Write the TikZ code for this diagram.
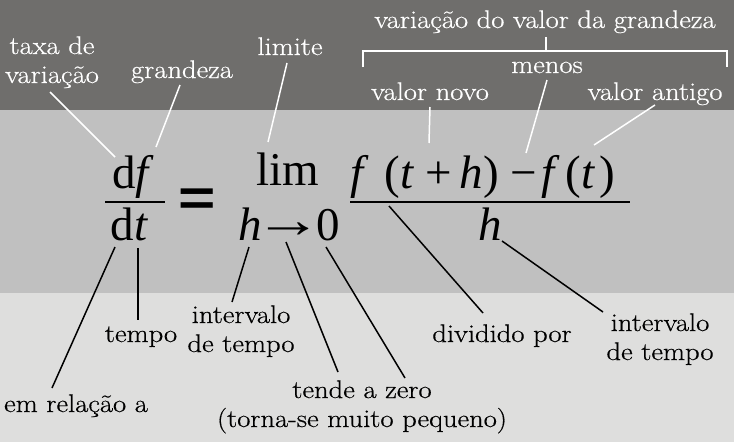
\documentclass[tikz,border=0pt]{standalone}
\usepackage{fontspec}
\setmainfont{Latin Modern Roman}
\newfontfamily\labfont[FakeStretch=1.12,FakeBold=0.5]{Latin Modern Roman}
\newfontfamily\fmfont{Liberation Serif}
\newfontfamily\eqfont{Liberation Sans}
\definecolor{darkband}{RGB}{111,110,108}
\definecolor{midband}{RGB}{192,192,192}
\definecolor{lightband}{RGB}{222,222,221}
\tikzset{
  lab/.style={font=\labfont\fontsize{25.5}{29}\selectfont, align=center, anchor=base, inner sep=0pt},
  wlab/.style={lab, text=white},
  fm/.style={font=\fmfont\fontsize{47}{47}\selectfont, anchor=base, inner sep=0pt},
  wline/.style={draw=white, line width=1.5pt},
  bline/.style={draw=black, line width=1.5pt},
  fbar/.style={draw=black, line width=2.2pt}
}
\begin{document}
\begin{tikzpicture}[x=1pt,y=-1pt]
\useasboundingbox (0,0) rectangle (734,442);
\fill[darkband] (0,0) rectangle (734,110);
\fill[midband] (0,110) rectangle (734,293);
\fill[lightband] (0,293) rectangle (734,442);

% formula
\node[fm] (df) at (133,188) {d\textit{f}};
\node[fm] (dt) at (129.5,240) {d\textit{t}};
\coordinate (b1l) at (105,202); \coordinate (b1r) at (165,202);
\draw[fbar] (b1l) -- (b1r);
\node[font=\eqfont\bfseries\fontsize{64}{64}\selectfont, inner sep=0pt] (eq) at (197.5,202) {\scalebox{1}[0.8]{=}};
\node[fm] (lim) at (288,185) {lim};
\node[fm] (lmt) at (289,240) {\textit{h}\hspace{-7pt}\raisebox{3pt}{\scalebox{1.45}[1.1]{→}}\hspace{-7pt}0};
\node[fm, anchor=base west] (num) at (350,188) {\textit{f}\hspace{16pt}(\textit{t}\hspace{11pt}+\hspace{8pt}\textit{h})\hspace{12pt}−\hspace{4pt}\textit{f}\hspace{6pt}(\textit{t}\hspace{4pt})};
\coordinate (b2l) at (350,202); \coordinate (b2r) at (630,202);
\draw[fbar] (b2l) -- (b2r);
\node[fm] (den) at (490,240) {\textit{h}};

% top labels
\node[wlab] (taxa) at (52,83) {taxa de\\variação};
\node[wlab] (grand) at (182,78) {grandeza};
\node[wlab] (limite) at (290,55) {limite};
\node[wlab] (varv) at (545,28) {variação do valor da grandeza};
\node[wlab] (menos) at (547,73) {menos};
\node[wlab] (vnovo) at (430,100) {valor novo};
\node[wlab] (vant) at (655,100) {valor antigo};

% bracket
\coordinate (brl) at (363,67); \coordinate (brl2) at (363,51);
\coordinate (brr) at (727,67); \coordinate (brr2) at (727,51);
\coordinate (brc) at (546,51); \coordinate (brt) at (546,37);
\draw[wline] (brl) -- (brl2) -- (brr2) -- (brr);
\draw[wline] (brc) -- (brt);

% white leader lines
\coordinate (w1a) at (50,92);  \coordinate (w1b) at (115,157);
\coordinate (w2a) at (180,85); \coordinate (w2b) at (156,147);
\coordinate (w3a) at (287,63); \coordinate (w3b) at (268,142);
\coordinate (w4a) at (430,107); \coordinate (w4b) at (429,143);
\coordinate (w5a) at (547,80); \coordinate (w5b) at (526,153);
\coordinate (w6a) at (655,105); \coordinate (w6b) at (594,145);
\draw[wline] (w1a) -- (w1b);
\draw[wline] (w2a) -- (w2b);
\draw[wline] (w3a) -- (w3b);
\draw[wline] (w4a) -- (w4b);
\draw[wline] (w5a) -- (w5b);
\draw[wline] (w6a) -- (w6b);

% bottom labels
\node[lab] (emrel) at (76,412) {em relação a};
\node[lab] (tempo) at (141,342) {tempo};
\node[lab] (int1) at (241,352) {intervalo\\de tempo};
\node[lab] (tende) at (362,427) {tende a zero\\(torna-se muito pequeno)};
\node[lab] (divid) at (502,342) {dividido por};
\node[lab] (int2) at (660,360) {intervalo\\de tempo};

% black leader lines
\coordinate (k1a) at (115,247); \coordinate (k1b) at (52,388);
\coordinate (k2a) at (138,248); \coordinate (k2b) at (138,320);
\coordinate (k3a) at (249,247); \coordinate (k3b) at (232,302);
\coordinate (k4a) at (286,242); \coordinate (k4b) at (338,372);
\coordinate (k5a) at (326,247); \coordinate (k5b) at (405,378);
\coordinate (k6a) at (389,206); \coordinate (k6b) at (483,313);
\coordinate (k7a) at (502,241); \coordinate (k7b) at (603,312);
\draw[bline] (k1a) -- (k1b);
\draw[bline] (k2a) -- (k2b);
\draw[bline] (k3a) -- (k3b);
\draw[bline] (k4a) -- (k4b);
\draw[bline] (k5a) -- (k5b);
\draw[bline] (k6a) -- (k6b);
\draw[bline] (k7a) -- (k7b);
\end{tikzpicture}
\end{document}
